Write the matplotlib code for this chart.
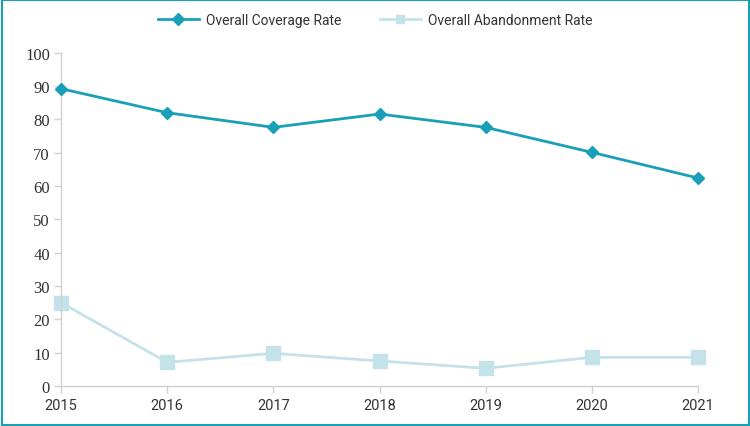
import matplotlib
matplotlib.use("Agg")
import matplotlib.pyplot as plt
from matplotlib.patches import Rectangle

years = [2015, 2016, 2017, 2018, 2019, 2020, 2021]
coverage = [89.2, 82.0, 77.6, 81.6, 77.6, 70.1, 62.4]
abandonment = [25.0, 7.1, 9.8, 7.5, 5.3, 8.6, 8.6]
yticks = [0, 10, 20, 30, 40, 50, 60, 70, 80, 90, 100]

c_cov = "#19a0b8"
c_ab = "#c4e2e9"
grey = "#d0d0d0"

fig = plt.figure(figsize=(7.5, 4.27), dpi=100)
ax = fig.add_axes([61/750, 1-387/427, (698-61)/750, (387-53.7)/427])

ax.plot(years, coverage, color=c_cov, lw=2, marker="D", ms=6.5, label="Overall Coverage Rate", clip_on=False, zorder=3)
ax.plot(years, abandonment, color=c_ab, lw=2, marker="s", ms=10, label="Overall Abandonment Rate", clip_on=False, zorder=2)

ax.set_xlim(2015, 2021)
ax.set_ylim(0, 100)
ax.set_xticks(years)
ax.set_yticks(yticks)
for s in ["top", "right"]:
    ax.spines[s].set_visible(False)
for s in ["left", "bottom"]:
    ax.spines[s].set_color(grey)
    ax.spines[s].set_linewidth(1)
ax.tick_params(axis="both", colors=grey, length=5, width=1)
ax.tick_params(axis="x", labelcolor="#333333", labelsize=10.5, pad=4)
ax.tick_params(axis="y", labelcolor="#333333", labelsize=12, pad=3)
for lbl in ax.get_yticklabels():
    lbl.set_family("Liberation Serif")
for lbl in ax.get_xticklabels():
    lbl.set_family("Roboto")

leg = fig.legend(loc="center", bbox_to_anchor=(0.5, 1-21/427), ncol=2, frameon=False,
                 prop={"family": "Roboto", "size": 10}, handlelength=2.95, handletextpad=0.5,
                 columnspacing=2.8, labelcolor="#333333")
hs = leg.legend_handles
hs[0].set_markersize(6.5)
hs[1].set_markersize(6)

fig.patches.append(Rectangle((0.002, 0.003), 0.996, 0.994, transform=fig.transFigure,
                             fill=False, edgecolor=c_cov, lw=1.5))

fig.savefig("out.png", dpi=100)
